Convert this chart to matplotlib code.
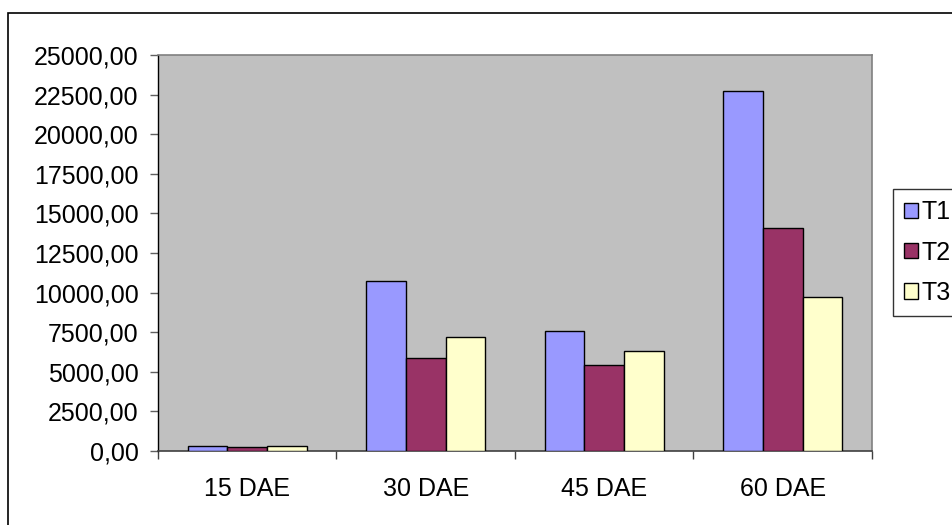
import numpy as np
import matplotlib
matplotlib.use("Agg")
import matplotlib.pyplot as plt
from matplotlib.patches import Rectangle
from matplotlib.ticker import FuncFormatter

# -----------------------------
# data
# -----------------------------
categories = ["15 DAE", "30 DAE", "45 DAE", "60 DAE"]
series_names = ["T1", "T2", "T3"]
t1 = [290, 10750, 7600, 22700]
t2 = [280, 5900, 5400, 14100]
t3 = [285, 7200, 6300, 9700]
y_ticks = [0, 2500, 5000, 7500, 10000, 12500, 15000, 17500, 20000, 22500, 25000]

bar_colors = ["#9999FF", "#993366", "#FFFFCC"]

plt.rcParams["font.family"] = ["Liberation Sans", "DejaVu Sans"]

fig = plt.figure(figsize=(9.53, 5.25), dpi=100)
fig.patch.set_facecolor("white")

# outer chart border (runs past the right and bottom edges)
fig.patches.append(Rectangle((8 / 953, -0.1), 1.2, (525 - 13) / 525 + 0.1,
                             transform=fig.transFigure, fill=False,
                             edgecolor="black", linewidth=1.2))

ax = fig.add_axes([158 / 953, 1 - 451 / 525, (872 - 158) / 953, (451 - 55) / 525])
ax.set_facecolor("#C0C0C0")

x = np.arange(len(categories))
w = 1 / 4.5  # excel gap width 150%
for i, (vals, col, name) in enumerate(zip([t1, t2, t3], bar_colors, series_names)):
    ax.bar(x + (i - 1) * w, vals, width=w, color=col, edgecolor="black",
           linewidth=1.0, label=name, zorder=3)

ax.set_xlim(-0.5, len(categories) - 0.5)
ax.set_ylim(0, 25000)
ax.set_yticks(y_ticks)
ax.yaxis.set_major_formatter(FuncFormatter(lambda v, p: f"{v:.2f}".replace(".", ",")))

ax.set_xticks(x)
ax.set_xticklabels(categories)
ax.set_xticks(np.arange(len(categories) + 1) - 0.5, minor=True)
ax.tick_params(axis="x", which="major", length=0, pad=19, labelsize=18)
ax.tick_params(axis="x", which="minor", length=6, width=1, color="#404040", direction="out")
ax.tick_params(axis="y", length=6, width=1, color="#606060", direction="out",
               pad=8, labelsize=18)

for s in ["top", "right"]:
    ax.spines[s].set_color("#808080")
    ax.spines[s].set_linewidth(1.2)
ax.spines["left"].set_color("black")
ax.spines["bottom"].set_color("#404040")
ax.spines["left"].set_linewidth(1.0)
ax.spines["bottom"].set_linewidth(1.2)

leg = fig.legend(loc="upper left", bbox_to_anchor=(893 / 953, 1 - 189 / 525),
                 frameon=True, fancybox=False, edgecolor="black", fontsize=18,
                 handlelength=0.56, handleheight=0.56, handletextpad=0.12,
                 labelspacing=0.65, borderpad=0.45, borderaxespad=0)
leg.get_frame().set_linewidth(1.0)

fig.savefig("out.png", dpi=100)
